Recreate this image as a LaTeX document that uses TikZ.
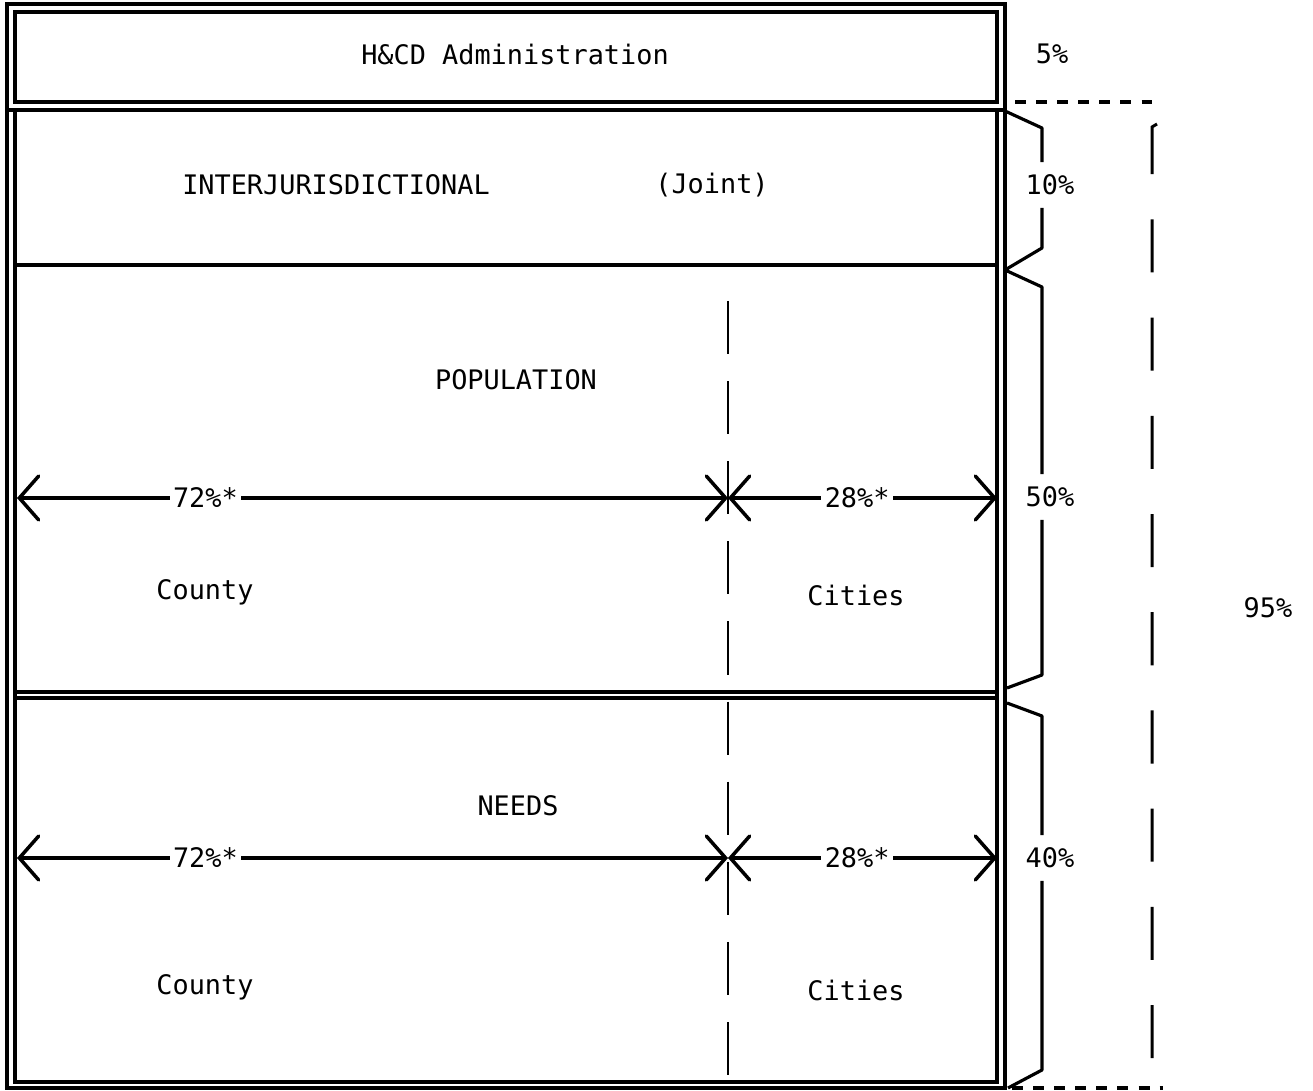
\documentclass[tikz,border=0pt]{standalone}
\usepackage{fontspec}
\setmainfont{DejaVu Sans Mono}
\usetikzlibrary{arrows.meta}

\tikzset{
  frame/.style={line width=1.9pt},
  cutline/.style={line width=1.7pt, dash pattern=on 30.2pt off 15.4pt},
  bigdash/.style={line width=1.7pt, dash pattern=on 30.2pt off 25.7pt},
  shortdash/.style={line width=1.8pt, dash pattern=on 6.3pt off 5.7pt},
  brace/.style={line width=1.8pt, line join=round},
  share/.style={line width=2pt, {Straight Barb[length=11pt,width=25pt,line cap=round]}-{Straight Barb[length=11pt,width=25pt,line cap=round]}},
  txt/.style={font=\fontsize{15.3}{18}\selectfont, inner sep=1pt},
  onarrow/.style={txt, fill=white, inner xsep=2pt},
  pct/.style={txt, inner xsep=1pt, inner ysep=7pt},
}

\begin{document}
\begin{tikzpicture}[x=0.02cm, y=-0.02cm]
\useasboundingbox (0,0) rectangle (1313,1091);
% frames
\draw[frame] (7,4) rectangle (1005,1088);
\draw[frame] (15,12) rectangle (997,102);
\draw[frame] (7,110) -- (1005,110);
\draw[frame] (15,110) -- (15,1082) -- (997,1082) -- (997,110);
\draw[frame] (15,265) -- (997,265);
\draw[frame] (15,692) -- (997,692);
\draw[frame] (15,698) -- (997,698);

% texts
\node[txt] (admin) at (515,54) {H\&CD Administration};
\node[txt] (pct5) at (1052,54) {5\%};
\node[txt] (interj) at (336,185) {INTERJURISDICTIONAL};
\node[txt] (joint) at (712,185) {(Joint)};
\node[txt] (poptitle) at (516,380) {POPULATION};
\node[txt] (popcounty) at (205,592) {County};
\node[txt] (popcities) at (856,595) {Cities};
\node[txt] (needtitle) at (518,806) {NEEDS};
\node[txt] (needcounty) at (205,987) {County};
\node[txt] (needcities) at (856,990) {Cities};
\node[pct] (pct10) at (1050,185) {10\%};
\node[pct] (pct50) at (1050,497) {50\%};
\node[pct] (pct40) at (1050,858) {40\%};
\node[txt] (pct95) at (1268,608) {95\%};

% county / cities split
\draw[cutline] (728,301) -- (728,1082);

% shares
\coordinate (popL) at (17,498);
\coordinate (popM) at (728,498);
\coordinate (popR) at (997,498);
\draw[share] (popL) -- node[onarrow, pos=0.265] (pop72) {72\%*} (popM);
\draw[share] (popM) -- node[onarrow, pos=0.48] (pop28) {28\%*} (popR);
\coordinate (needL) at (17,858);
\coordinate (needM) at (728,858);
\coordinate (needR) at (997,858);
\draw[share] (needL) -- node[onarrow, pos=0.265] (need72) {72\%*} (needM);
\draw[share] (needM) -- node[onarrow, pos=0.48] (need28) {28\%*} (needR);

% braces
\coordinate (bx) at (1042,0);
\draw[brace] (1005,111) -- (1042,128) -- (bx |- pct10.north);
\draw[brace] (bx |- pct10.south) -- (1042,248) -- (1005,270) -- (1042,287) -- (bx |- pct50.north);
\draw[brace] (bx |- pct50.south) -- (1042,675) -- (1007,688);
\draw[brace] (1007,703) -- (1042,716) -- (bx |- pct40.north);
\draw[brace] (bx |- pct40.south) -- (1042,1070) -- (1008,1088);

% 95% bracket
\draw[shortdash] (1015,102) -- (1152,102);
\draw[bigdash] (1157,124) -- (1152,127) -- (1152,1063) -- (1159,1066);
\draw[shortdash] (1012,1088) -- (1163,1088);
\end{tikzpicture}
\end{document}
